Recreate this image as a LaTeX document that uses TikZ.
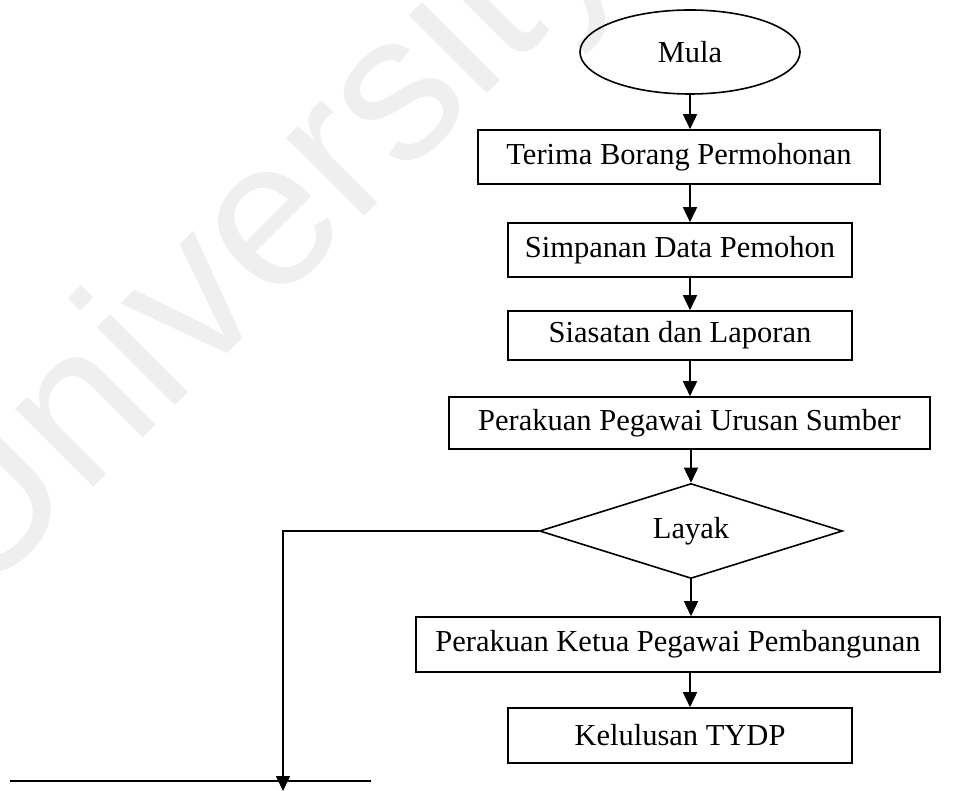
\documentclass[tikz,border=0pt]{standalone}
\usepackage{fontspec}
\setmainfont{Liberation Serif}
\newfontfamily\wmfont{Liberation Sans}
\usetikzlibrary{shapes.geometric,arrows.meta,calc}
\definecolor{wmgray}{HTML}{EFEFEF}
\tikzset{
  boxnode/.style={draw, line width=1.6pt, rectangle, inner sep=0pt, font=\fontsize{30.5}{32}\selectfont},
  arr/.style={line width=1.6pt, -{Triangle[width=14pt,length=15pt]}},
  ln/.style={line width=1.6pt},
}
\begin{document}
\begin{tikzpicture}[x=1pt,y=-1pt]
\useasboundingbox (0,0) rectangle (955,791);
% watermark
\node[wmgray, rotate=45, anchor=base, inner sep=0pt, font=\wmfont\fontsize{209}{209}\selectfont] (wm) at (301,280) {University};
\coordinate (ax) at (690,0);
\node[boxnode, ellipse, minimum width=220pt, minimum height=84pt] (mula) at (690,52) {Mula};
\node[boxnode, minimum width=402pt, minimum height=54pt] (t1) at (679,157) {Terima Borang Permohonan};
\node[boxnode, minimum width=344pt, minimum height=54pt] (t2) at (680,250) {Simpanan Data Pemohon};
\node[boxnode, minimum width=344pt, minimum height=49pt] (t3) at (680,335.5) {Siasatan dan Laporan};
\node[boxnode, minimum width=481pt, minimum height=52pt] (t4) at (689.5,423) {Perakuan Pegawai Urusan Sumber};
\node[boxnode, diamond, aspect=3.19, minimum width=303pt, minimum height=95pt] (d) at (691,531) {Layak};
\node[boxnode, minimum width=524pt, minimum height=55pt] (t5) at (678,644.5) {Perakuan Ketua Pegawai Pembangunan};
\node[boxnode, minimum width=344pt, minimum height=55pt] (t6) at (680,735.5) {Kelulusan TYDP};
\draw[arr] (mula.south -| ax) -- (t1.north -| ax);
\draw[arr] (t1.south -| ax) -- (t2.north -| ax);
\draw[arr] (t2.south -| ax) -- (t3.north -| ax);
\draw[arr] (t3.south -| ax) -- (t4.north -| ax);
\draw[arr] (t4.south -| d.north) -- (d.north);
\draw[arr] (d.south) -- (t5.north -| d.south);
\draw[arr] (t5.south -| ax) -- (t6.north -| ax);
\coordinate (corner) at (283,531);
\coordinate (bend) at (283,791);
\draw[arr] (d.west) -- (corner) -- (bend);
\coordinate (hl) at (10,781);
\coordinate (hr) at (371,781);
\draw[ln] (hl) -- (hr);
\end{tikzpicture}
\end{document}
